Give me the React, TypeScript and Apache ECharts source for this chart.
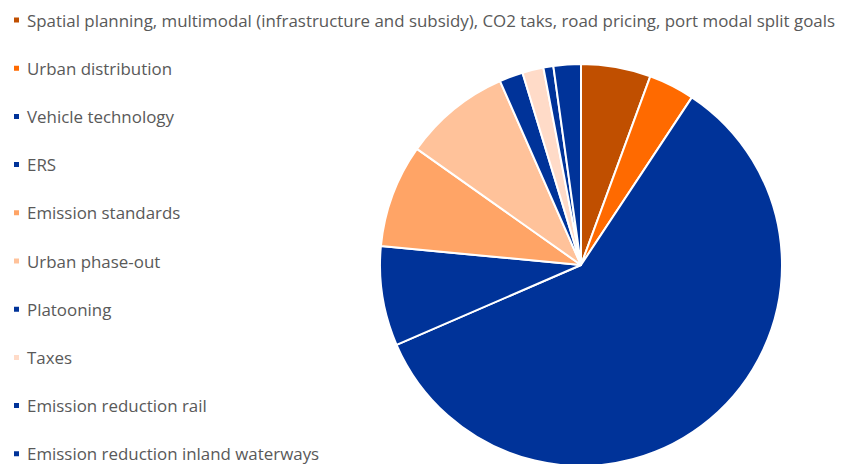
import React, { useEffect, useRef } from "react";
import * as echarts from "echarts";

const categories = [
  "Spatial planning, multimodal (infrastructure and subsidy), CO2 taks, road pricing, port modal split goals",
  "Urban distribution",
  "Vehicle technology",
  "ERS",
  "Emission standards",
  "Urban phase-out",
  "Platooning",
  "Taxes",
  "Emission reduction rail",
  "Emission reduction inland waterways",
];
const values = [5.6, 3.7, 59.2, 8.0, 8.3, 8.6, 1.9, 1.7, 0.8, 2.2];
const colors = [
  "#C04F00",
  "#FF6A00",
  "#003399",
  "#003399",
  "#FFA466",
  "#FFC29A",
  "#003399",
  "#FFDBC8",
  "#003399",
  "#003399",
];

export default function App() {
  const ref = useRef<HTMLDivElement>(null);
  useEffect(() => {
    const chart = echarts.init(ref.current!, null, { renderer: "svg" });
    chart.setOption({
      animation: false,
      color: colors,
      legend: {
        orient: "vertical",
        left: 4,
        top: 3.5,
        padding: 0,
        height: 600,
        icon: "rect",
        itemWidth: 7,
        itemHeight: 7,
        itemGap: 31.2,
        selectedMode: false,
        textStyle: {
          fontFamily: "Open Sans",
          fontSize: 16.9,
          color: "#595959",
          lineHeight: 17,
          padding: [0, 0, 0, 2],
        },
        data: categories,
      },
      series: [
        {
          type: "pie",
          center: [573, 257],
          radius: [0, 201],
          startAngle: 90,
          clockwise: true,
          label: { show: false },
          labelLine: { show: false },
          itemStyle: { borderColor: "#ffffff", borderWidth: 2 },
          emphasis: { disabled: true },
          data: categories.map((name, i) => ({ name, value: values[i] })),
        },
      ],
    });
    return () => chart.dispose();
  }, []);
  return <div ref={ref} style={{ width: 838, height: 456 }} />;
}
